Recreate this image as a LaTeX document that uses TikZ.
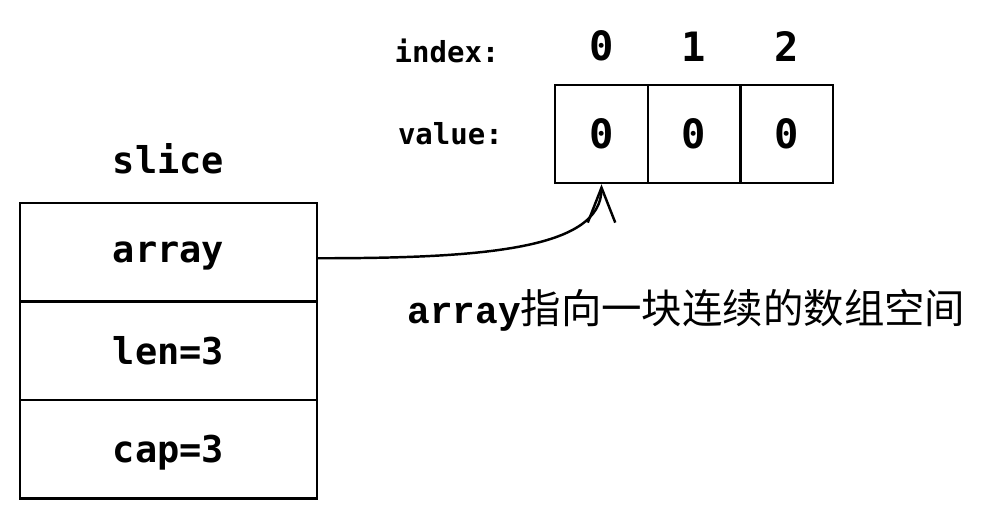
\documentclass[tikz,border=0pt]{standalone}
\usepackage{fontspec}
\setmonofont{DejaVu Sans Mono}
\newfontfamily\capmono{Liberation Mono}
\newfontfamily\cjk{Noto Sans CJK SC}
\usetikzlibrary{
  arrows.meta,
  positioning,
}
\tikzset{
  >={Straight Barb[length=7mm,width=5.5mm]},
  slotbox/.style={draw,rectangle,line width=1.4pt,minimum width=5.94cm,minimum height=1.97cm,text depth=0pt,
    font=\ttfamily\bfseries\fontsize{21}{21}\selectfont},
  cellbox/.style={draw,rectangle,line width=1.4pt,minimum width=1.853cm,minimum height=1.96cm,
    font=\ttfamily\bfseries\fontsize{23}{23}\selectfont},
  digit/.style={font=\ttfamily\bfseries\fontsize{23}{23}\selectfont},
  rowname/.style={font=\ttfamily\bfseries\fontsize{16.5}{16.5}\selectfont},
}

\begin{document}
\begin{tikzpicture}[node distance=-1.4pt]
        \useasboundingbox (0,0) rectangle (19.64,-10.38);

        % slice header
        \node[slotbox]    (s0) at (3.37,-5.045)    {array};
        \node[slotbox]    (s1) [below=of s0]       {len=3};
        \node[slotbox]    (s2) [below=of s1]       {cap=3};
        \node[font=\ttfamily\bfseries\fontsize{21}{21}\selectfont]    (slice) [above=0.44cm of s0]    {slice};

        % backing array
        \node[cellbox]    (c0) at (12.03,-2.68)    {0};
        \node[cellbox]    (c1) [right=of c0]       {0};
        \node[cellbox]    (c2) [right=of c1]       {0};
        \node[digit]      (i0) [above=0.32cm of c0]    {0};
        \node[digit]      (i1) [above=0.32cm of c1]    {1};
        \node[digit]      (i2) [above=0.32cm of c2]    {2};
        \node[rowname]    (value) [left=0.9cm of c0]    {value:};
        \node[rowname,yshift=-0.1cm]    (index) [left=1.55cm of i0]   {index:};

        \node[anchor=base west,inner sep=0pt]    (note) at (8.14,-6.46)
          {{\capmono\bfseries\fontsize{21.5}{21.5}\selectfont array}{\cjk\fontsize{23}{23}\selectfont 指向一块连续的数组空间}};

        \draw[->,line width=1.4pt] ([yshift=-0.12cm]s0.east) .. controls +(3.3,0) and +(0,-1.3) .. (c0.south);

    \end{tikzpicture}
\end{document}
